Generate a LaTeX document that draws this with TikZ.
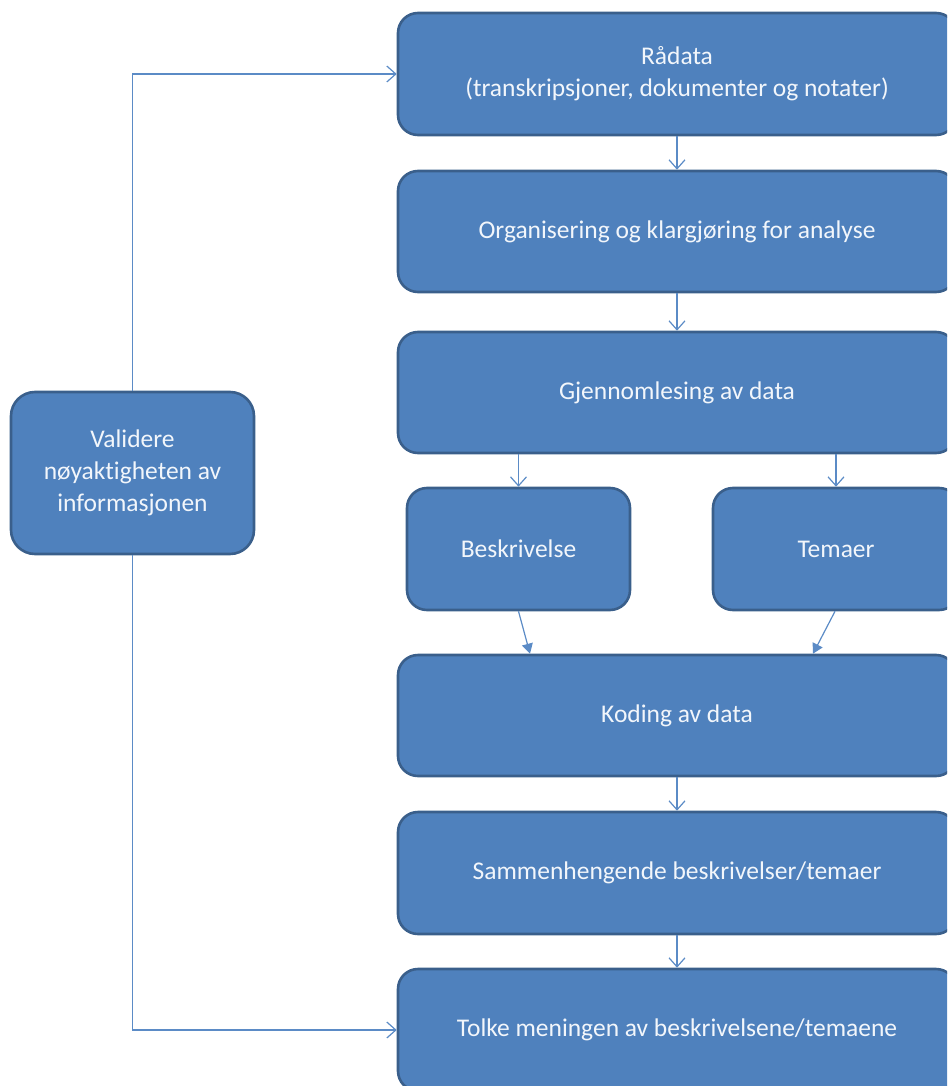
\documentclass[tikz,border=0pt]{standalone}
\usepackage{fontspec}
\setmainfont{Carlito}[Ligatures=NoCommon]
\usetikzlibrary{arrows.meta}
\definecolor{boxfill}{HTML}{4F81BD}
\definecolor{boxline}{HTML}{3A5F8B}
\definecolor{linkcol}{HTML}{5B8BC6}
\definecolor{boxtext}{HTML}{F2F6FB}
\begin{document}
\begin{tikzpicture}[x=1pt,y=-1pt,
  stepbox/.style={draw=boxline, line width=2.6pt, fill=boxfill, rounded corners=20pt,
    text=boxtext, font=\fontsize{25.5}{32}\selectfont, align=center, inner sep=0pt},
  link/.style={draw=linkcol, line width=1.2pt, -{Straight Barb[length=9pt,width=16pt,line width=1.2pt]}},
  flink/.style={draw=linkcol, line width=1.2pt, -{Triangle[length=10pt,width=11pt]}}]
\useasboundingbox (0,0) rectangle (947,1086);
\begin{scope}
\clip (0,0) rectangle (947,1086);
% main column
\node[stepbox, minimum width=558pt, minimum height=122pt] (raw) at (677,74)
  {Rådata\\(transkripsjoner, dokumenter og notater)};
\node[stepbox, minimum width=558pt, minimum height=121pt] (org) at (677,231.5)
  {Organisering og klargjøring for analyse};
\node[stepbox, minimum width=558pt, minimum height=121pt] (read) at (677,392.5)
  {Gjennomlesing av data};
\node[stepbox, minimum width=223pt, minimum height=122pt] (desc) at (518.5,549)
  {Beskrivelse};
\node[stepbox, minimum width=246pt, minimum height=122pt] (them) at (836,549)
  {Temaer};
\node[stepbox, minimum width=558pt, minimum height=121pt] (code) at (677,715.5)
  {Koding av data};
\node[stepbox, minimum width=558pt, minimum height=122pt] (rel) at (677,873)
  {Sammenhengende beskrivelser/temaer};
\node[stepbox, minimum width=558pt, minimum height=122pt] (interp) at (677,1030)
  {Tolke meningen av beskrivelsene/temaene};
% side box
\node[stepbox, minimum width=243pt, minimum height=162pt, rounded corners=24pt] (valid) at (132.5,473)
  {Validere\\nøyaktigheten av\\informasjonen};
\end{scope}
% connectors down the column
\draw[link] (raw.south) -- (org.north);
\draw[link] (org.south) -- (read.north);
\draw[link] (read.south -| desc.north) -- (desc.north);
\draw[link] (read.south -| them.north) -- (them.north);
\draw[flink] (desc.south) -- (code.north -| 530,0);
\draw[flink] (them.south -| 835,0) -- (code.north -| 813,0);
\draw[link] (code.south) -- (rel.north);
\draw[link] (rel.south) -- (interp.north);
% validation loop
\draw[link] (valid.north) |- (raw.west);
\draw[link] (valid.south) |- (interp.west);
\end{tikzpicture}
\end{document}
